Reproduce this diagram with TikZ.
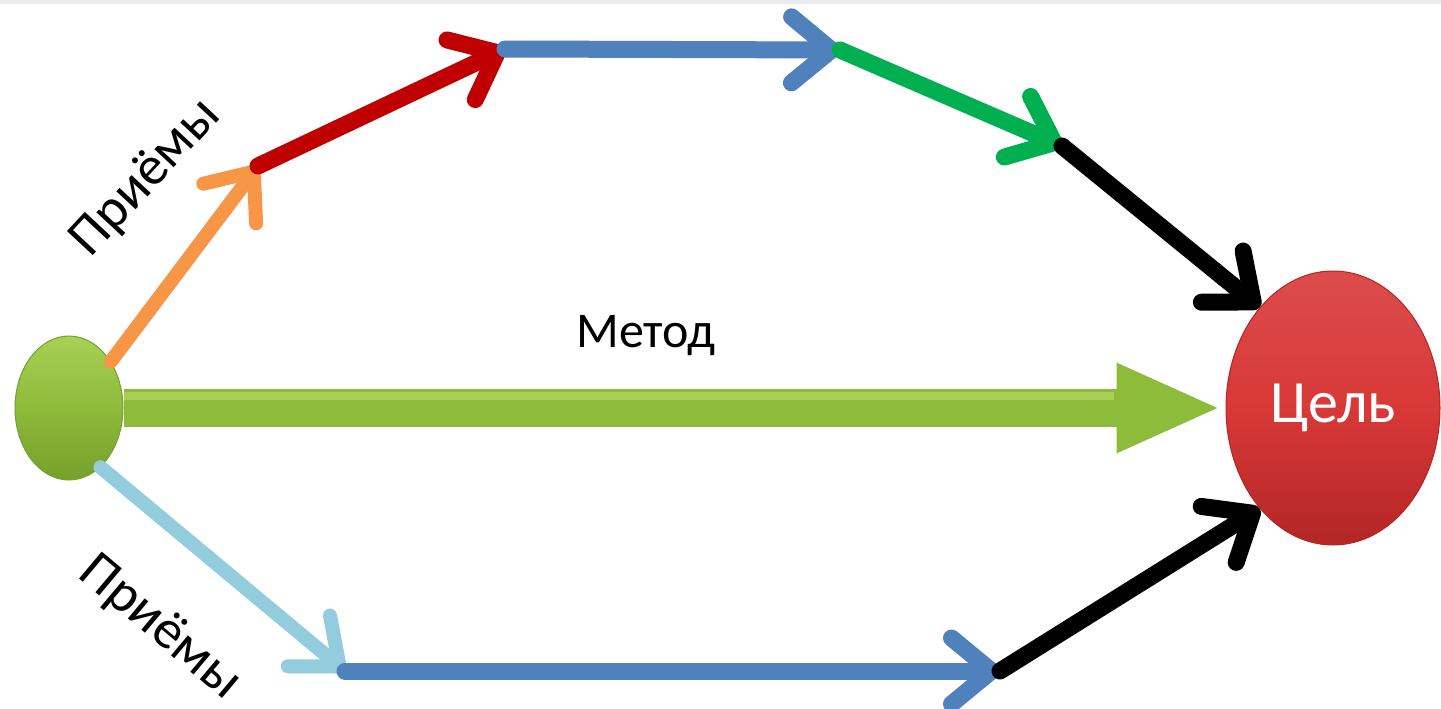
\documentclass[tikz,border=0pt]{standalone}
\usepackage{fontspec}
\setmainfont{Carlito}
\usetikzlibrary{arrows.meta,shapes.geometric}
\definecolor{cOrange}{HTML}{F79646}
\definecolor{cRed}{HTML}{C00000}
\definecolor{cBlue}{HTML}{4F81BD}
\definecolor{cGreen}{HTML}{00B050}
\definecolor{cLight}{HTML}{93CDDD}
\definecolor{cOlive}{HTML}{8DBB3A}
\definecolor{cOliveD}{HTML}{76A02C}
\definecolor{cOliveL}{HTML}{A8D055}
\definecolor{cGoal}{HTML}{D83838}
\definecolor{cGoalD}{HTML}{B32626}
\tikzset{
  seg/.style={line width=17pt, line cap=round, -{Straight Barb[length=40pt,width=66pt,round]}},
  lbl/.style={font=\fontsize{50}{56}\selectfont, inner sep=0pt},
}
\begin{document}
\begin{tikzpicture}[x=1pt,y=-1pt]
\useasboundingbox (0,0) rectangle (1441,709);
\fill[white] (0,0) rectangle (1441,709);
\fill[black!8] (0,0) rectangle (1441,4);
% nodes
\node[ellipse, minimum width=108pt, minimum height=144pt, draw=cOliveD, line width=1pt,
      top color=cOliveL, bottom color=cOliveD, middle color=cOlive] (start) at (69,408) {};
\node[ellipse, minimum width=214pt, minimum height=274pt, draw=cGoalD, line width=1pt,
      top color=cGoal!90!white, bottom color=cGoalD, middle color=cGoal, text=white,
      font=\fontsize{60}{66}\selectfont] (goal) at (1333,408) {Цель};
% junction points
\coordinate (a1) at (258,166);
\coordinate (a2) at (505,49);
\coordinate (a3) at (840,50);
\coordinate (a4) at (1062,146);
\coordinate (b1) at (345,671);
\coordinate (b2) at (1000,671);
% main arrow
\draw[cOlive, line width=38pt, shorten >=4pt, -{Triangle[length=105pt,width=82pt]}] (start) -- (goal);
\draw[cOliveL, line width=8pt, shorten <=55pt, shorten >=112pt] (start.center) ++(0,-12) coordinate (hl) (hl) -- (hl -| goal.west);
% upper chain
\draw[seg, cOrange, line width=14pt] (start.48) -- (a1);
\draw[seg, cRed] (a1) -- (a2);
\draw[seg, cBlue] (a2) -- (a3);
\draw[seg, cGreen] (a3) -- (a4);
\draw[seg, black] (a4) -- (goal.126);
% lower chain
\draw[seg, cLight, line width=14pt] (start.-62) -- (b1);
\draw[seg, cBlue] (b1) -- (b2);
\draw[seg, black] (b2) -- (goal.234);
% labels
\node[lbl, rotate=47, font=\fontsize{55}{60}\selectfont] (t1) at (146,178) {Приёмы};
\node[lbl, rotate=-40, font=\fontsize{55}{60}\selectfont] (t2) at (160,628) {Приёмы};
\node[lbl] (t3) at (646,336) {Метод};
\end{tikzpicture}
\end{document}
